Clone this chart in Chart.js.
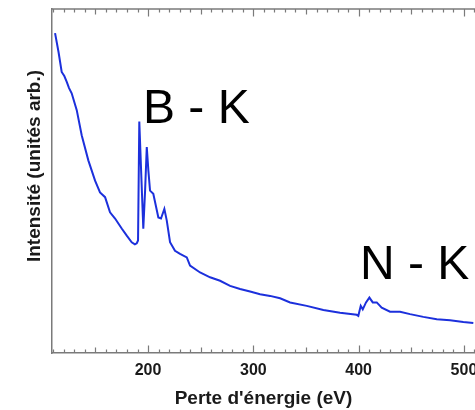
<!DOCTYPE html>
<html lang="fr">
<head>
<meta charset="utf-8">
<title>Perte d'énergie - B-K / N-K</title>
<script src="https://cdn.jsdelivr.net/npm/chart.js@4"></script>
<style>
    html, body { margin: 0; padding: 0; background: #fff; }
    #wrap { width: 475px; height: 410px; }
</style>
</head>
<body>
<div id="wrap"><canvas id="eelsChart" width="475" height="410"></canvas></div>
<script>
// Spectrum (energy loss in eV, intensity in arbitrary units)
const energy = [
    111.7, 115.0, 118.0, 120.5, 122.8, 125.0, 127.5, 132.3, 137.0, 143.3,
    149.7, 154.4, 159.2, 163.9, 168.7, 175.0, 179.8, 184.5, 187.5, 189.3,
    190.5, 191.7, 193.6, 195.5, 197.2, 198.8, 200.3, 201.9, 205.0, 209.8,
    212.3, 215.5, 217.8, 220.9, 225.6, 230.4, 236.8, 239.9, 249.4, 258.9,
    268.4, 277.9, 287.4, 296.9, 306.4, 315.9, 325.4, 334.9, 350.7, 366.5,
    382.3, 398.2, 399.7, 402.0, 403.9, 407.0, 410.2, 413.4, 417.2, 421.9,
    429.8, 439.3, 448.8, 461.4, 474.2, 486.8, 499.4, 508.9
];
const intensity = [
    93.0, 87.5, 81.7, 80.5, 78.8, 77.0, 75.5, 70.6, 63.3, 56.0,
    50.1, 46.7, 45.3, 40.9, 39.1, 36.2, 34.1, 32.2, 31.6, 31.9,
    32.7, 67.3, 51.6, 36.1, 47.2, 59.9, 53.1, 47.2, 46.3, 39.4,
    39.1, 41.9, 38.5, 32.2, 29.7, 28.8, 27.8, 25.4, 23.4, 22.0,
    21.0, 19.5, 18.6, 17.9, 17.1, 16.6, 15.9, 14.7, 13.7, 12.5,
    11.7, 11.1, 10.8, 13.7, 12.7, 14.7, 16.1, 14.7, 14.7, 13.2,
    12.0, 12.0, 11.3, 10.5, 9.8, 9.5, 9.0, 8.7
];

// Axis range and labelled ticks
const xMin = 108.8;
const xMax = 510.5;
const xLabels = [200, 300, 400, 500];

// Edge labels: [text, energy, intensity]
const edgeLabels = [
    ['B - K', 195.2, 66.8],
    ['N - K', 401.3, 21.4]
];

const FONT = "'Liberation Sans', Arial, Helvetica, sans-serif";
const AXIS_COLOR = '#7a7a7a';
const TEXT_COLOR = '#1a1a1a';

// Inward tick marks on bottom and top axes, top border, y title, edge labels
const framePlugin = {
    id: 'frame',
    afterDraw(chart) {
        const { ctx, chartArea: area, scales } = chart;
        const x = scales.x, y = scales.y;
        ctx.save();

        // top border
        ctx.strokeStyle = AXIS_COLOR;
        ctx.lineWidth = 1.5;
        ctx.beginPath();
        ctx.moveTo(area.left, area.top);
        ctx.lineTo(area.right, area.top);
        ctx.stroke();

        // ticks every 10 eV, longer on 50 and 100
        ctx.lineWidth = 1.2;
        ctx.beginPath();
        for (let v = 110; v <= xMax; v += 10) {
            const px = Math.round(x.getPixelForValue(v)) + 0.5;
            let len = 3.5;
            if (v % 100 === 0) len = 7.5;
            else if (v % 50 === 0) len = 5.5;
            ctx.moveTo(px, area.bottom);
            ctx.lineTo(px, area.bottom - len);
            ctx.moveTo(px, area.top);
            ctx.lineTo(px, area.top + len);
        }
        ctx.stroke();

        // y title
        ctx.fillStyle = TEXT_COLOR;
        ctx.font = 'bold 19px ' + FONT;
        ctx.textAlign = 'center';
        ctx.textBaseline = 'middle';
        ctx.translate(35, 166);
        ctx.rotate(-Math.PI / 2);
        ctx.fillText('Intensité (unités arb.)', 0, 0);
        ctx.setTransform(1, 0, 0, 1, 0, 0);

        // edge labels
        ctx.font = '48px ' + FONT;
        ctx.textAlign = 'left';
        ctx.textBaseline = 'alphabetic';
        ctx.fillStyle = '#000';
        edgeLabels.forEach(([text, ex, ey]) => {
            ctx.fillText(text, x.getPixelForValue(ex), y.getPixelForValue(ey));
        });
        ctx.restore();
    }
};

const ctx = document.getElementById('eelsChart').getContext('2d');
const eelsChart = new Chart(ctx, {
    type: 'line',
    data: {
        datasets: [{
            data: energy.map((e, i) => ({ x: e, y: intensity[i] })),
            borderColor: '#1c30dc',
            borderWidth: 2,
            pointRadius: 0,
            tension: 0,
            fill: false
        }]
    },
    options: {
        responsive: false,
        animation: false,
        devicePixelRatio: 1,
        layout: { padding: { top: 9, left: 0, right: 0, bottom: 0 } },
        plugins: {
            legend: { display: false },
            tooltip: { enabled: false }
        },
        scales: {
            x: {
                type: 'linear',
                min: xMin,
                max: xMax,
                offset: false,
                grid: { display: false, drawTicks: true, tickLength: 8 },
                border: { display: true, color: AXIS_COLOR, width: 1.5 },
                ticks: {
                    autoSkip: false,
                    maxRotation: 0,
                    padding: 0,
                    color: TEXT_COLOR,
                    font: { family: FONT, size: 16, weight: 'bold' },
                    callback: (v) => xLabels.includes(v) ? String(v) : ''
                },
                // labelled ticks plus an empty one at the right edge
                afterBuildTicks: (scale) => {
                    scale.ticks = xLabels.concat([xMax]).map(v => ({ value: v }));
                },
                title: {
                    display: true,
                    text: "Perte d'énergie (eV)",
                    color: TEXT_COLOR,
                    font: { family: FONT, size: 19, weight: 'bold' },
                    padding: { top: 0, bottom: 0 }
                },
                afterFit: (scale) => { scale.height = 57; }
            },
            y: {
                min: 0,
                max: 100,
                grid: { display: false, drawTicks: false },
                border: { display: true, color: AXIS_COLOR, width: 1.5 },
                ticks: { display: false },
                afterFit: (scale) => { scale.width = 52; }
            }
        }
    },
    plugins: [framePlugin]
});
</script>
</body>
</html>
